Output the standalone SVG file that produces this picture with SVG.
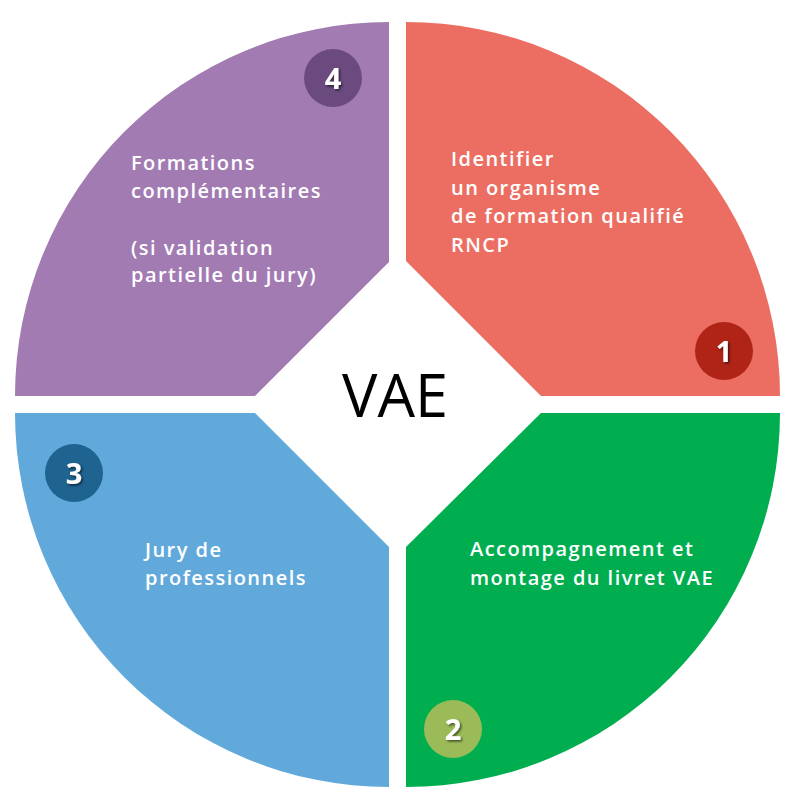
<svg xmlns="http://www.w3.org/2000/svg" width="800" height="800" viewBox="0 0 800 800">
  <defs>
    <filter id="sh" x="-20%" y="-20%" width="150%" height="150%">
      <feDropShadow dx="1.5" dy="1.5" stdDeviation="0.8" flood-color="#000" flood-opacity="0.6"/>
    </filter>
  </defs>
  <style>
    .lbl { font-family: "Open Sans", "Liberation Sans", sans-serif; font-weight: 600; font-size: 20px; letter-spacing: 1.45px; fill: #ffffff; }
    .num { font-family: "Open Sans", "Liberation Sans", sans-serif; font-weight: 700; font-size: 29px; fill: #ffffff; text-anchor: middle; filter: url(#sh); }
    .ctr { font-family: "Open Sans", "Liberation Sans", sans-serif; font-size: 60px; fill: #000000; text-anchor: middle; }
  </style>
  <rect width="800" height="800" fill="#ffffff"/>

  <g id="step1">
    <path d="M406,22 A374,374 0 0 1 780,396 L541,396 L406,261 Z" fill="#ec6e62"/>
    <text class="lbl" x="451" y="166">Identifier</text>
    <text class="lbl" x="451" y="195">un organisme</text>
    <text class="lbl" x="451" y="223">de formation qualifié</text>
    <text class="lbl" x="451" y="252">RNCP</text>
    <circle cx="724" cy="351" r="29" fill="#b02418"/>
    <text class="num" x="724" y="362">1</text>
  </g>

  <g id="step2">
    <path d="M406,787 A374,374 0 0 0 780,413 L541,413 L406,547 Z" fill="#00ae4f"/>
    <text class="lbl" x="470" y="556">Accompagnement et</text>
    <text class="lbl" x="470" y="585">montage du livret VAE</text>
    <circle cx="453" cy="729" r="29" fill="#9bbb59"/>
    <text class="num" x="453" y="740">2</text>
  </g>

  <g id="step3">
    <path d="M15,413 A374,374 0 0 0 389,787 L389,547 L255,413 Z" fill="#62a9db"/>
    <text class="lbl" x="145" y="557">Jury de</text>
    <text class="lbl" x="145" y="585">professionnels</text>
    <circle cx="74" cy="473" r="29" fill="#1f6391"/>
    <text class="num" x="74" y="484">3</text>
  </g>

  <g id="step4">
    <path d="M389,22 A374,374 0 0 0 15,396 L255,396 L389,262 Z" fill="#a27bb3"/>
    <text class="lbl" x="131" y="170">Formations</text>
    <text class="lbl" x="131" y="198">complémentaires</text>
    <text class="lbl" x="131" y="255">(si validation</text>
    <text class="lbl" x="131" y="282">partielle du jury)</text>
    <circle cx="333" cy="78" r="29" fill="#6b4a80"/>
    <text class="num" x="333" y="89">4</text>
  </g>

  <g id="center">
    <text class="ctr" x="395" y="417" textLength="106" lengthAdjust="spacingAndGlyphs">VAE</text>
  </g>

  <g id="connectors"/>
</svg>
